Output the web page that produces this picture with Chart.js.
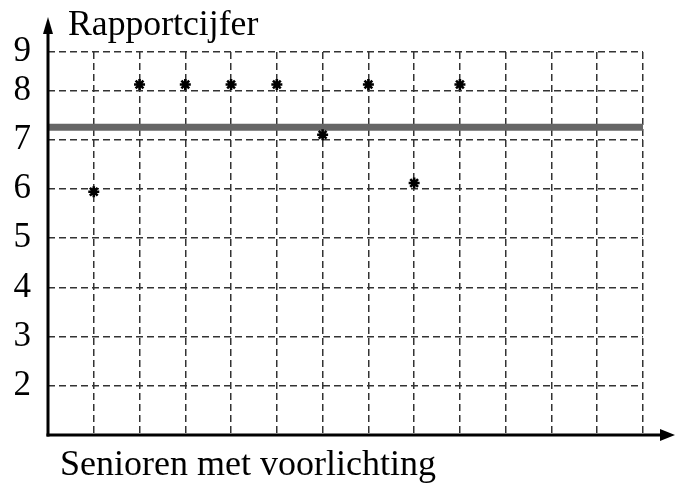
<!DOCTYPE html>
<html>
<head>
<meta charset="utf-8">
<script src="https://cdn.jsdelivr.net/npm/chart.js@4/dist/chart.umd.min.js"></script>
<style>
  html, body { margin: 0; padding: 0; background: #fff; }
  #wrap { width: 675px; height: 485px; position: relative; }
</style>
</head>
<body>
<div id="wrap"><canvas id="c"></canvas></div>
<script>
// ---- data ----
const seniorIndex = [1, 2, 3, 4, 5, 6, 7, 8, 9];
const rapportcijfers = [5.94, 8.12, 8.12, 8.12, 8.12, 7.1, 8.12, 6.12, 8.12];
const gemiddelde = 7.25;
const xRange = [0, 13];
const yTickValues = [1, 2, 3, 4, 5, 6, 7, 8, 8.78];
const yTickLabels = ['', '2', '3', '4', '5', '6', '7', '8', '9'];
const yAxisTitle = 'Rapportcijfer';
const xAxisTitle = 'Senioren met voorlichting';

const SERIF = '"Liberation Serif", "Times New Roman", serif';

const pointsData = seniorIndex.map((x, i) => ({ x: x, y: rapportcijfers[i] }));
const meanData = [{ x: xRange[0], y: gemiddelde }, { x: xRange[1], y: gemiddelde }];

const axesPlugin = {
  id: 'axesDeco',
  afterDatasetsDraw(chart) {
    const ctx = chart.ctx;
    const xs = chart.scales.x, ys = chart.scales.y;
    const x0 = xs.getPixelForValue(xRange[0]);
    const y0 = ys.getPixelForValue(yTickValues[0]);
    ctx.save();
    ctx.strokeStyle = '#000';
    ctx.fillStyle = '#000';
    ctx.lineWidth = 3;
    // y axis with arrow
    ctx.beginPath();
    ctx.moveTo(x0, y0 + 1.5);
    ctx.lineTo(x0, 30);
    ctx.stroke();
    ctx.beginPath();
    ctx.moveTo(x0, 17);
    ctx.lineTo(x0 - 5, 34);
    ctx.lineTo(x0 + 5, 34);
    ctx.closePath();
    ctx.fill();
    // x axis with arrow
    ctx.beginPath();
    ctx.moveTo(x0 - 1.5, y0);
    ctx.lineTo(664, y0);
    ctx.stroke();
    ctx.beginPath();
    ctx.moveTo(675, y0);
    ctx.lineTo(660, y0 - 6);
    ctx.lineTo(660, y0 + 6);
    ctx.closePath();
    ctx.fill();
    // titles
    ctx.font = '35px ' + SERIF;
    ctx.textAlign = 'left';
    ctx.textBaseline = 'alphabetic';
    ctx.save();
    ctx.translate(68, 35);
    ctx.scale(1.02, 1);
    ctx.fillText(yAxisTitle, 0, 0);
    ctx.restore();
    ctx.font = '36px ' + SERIF;
    ctx.fillText(xAxisTitle, 60, 475);
    ctx.restore();
  }
};

new Chart(document.getElementById('c'), {
  type: 'scatter',
  data: {
    datasets: [
      {
        type: 'line',
        label: 'gemiddelde',
        data: meanData,
        borderColor: '#666666',
        borderWidth: 7,
        pointRadius: 0,
        fill: false,
        order: 2
      },
      {
        label: 'rapportcijfer',
        data: pointsData,
        pointStyle: 'star',
        pointRadius: 5.5,
        borderWidth: 2.6,
        borderColor: '#000',
        backgroundColor: '#000',
        order: 1
      }
    ]
  },
  options: {
    responsive: true,
    maintainAspectRatio: false,
    animation: false,
    events: [],
    layout: { padding: { left: 0, right: 32, top: 52, bottom: 50 } },
    plugins: { legend: { display: false }, tooltip: { enabled: false }, title: { display: false } },
    scales: {
      x: {
        type: 'linear',
        min: xRange[0],
        max: xRange[1],
        ticks: { display: false, stepSize: 1 },
        grid: { color: '#333333', lineWidth: 1.5, drawTicks: false },
        border: { display: false, dash: [7, 4] },
        afterFit(s) { s.height = 0; }
      },
      y: {
        type: 'linear',
        min: yTickValues[0],
        max: yTickValues[yTickValues.length - 1],
        afterBuildTicks(s) { s.ticks = yTickValues.map(v => ({ value: v })); },
        ticks: {
          padding: 17,
          color: '#000',
          font: { family: SERIF, size: 35 },
          callback(v, i) { return yTickLabels[i]; }
        },
        grid: { color: '#333333', lineWidth: 1.5, drawTicks: false },
        border: { display: false, dash: [7, 4] },
        afterFit(s) { s.width = 48; }
      }
    }
  },
  plugins: [axesPlugin]
});
</script>
</body>
</html>
